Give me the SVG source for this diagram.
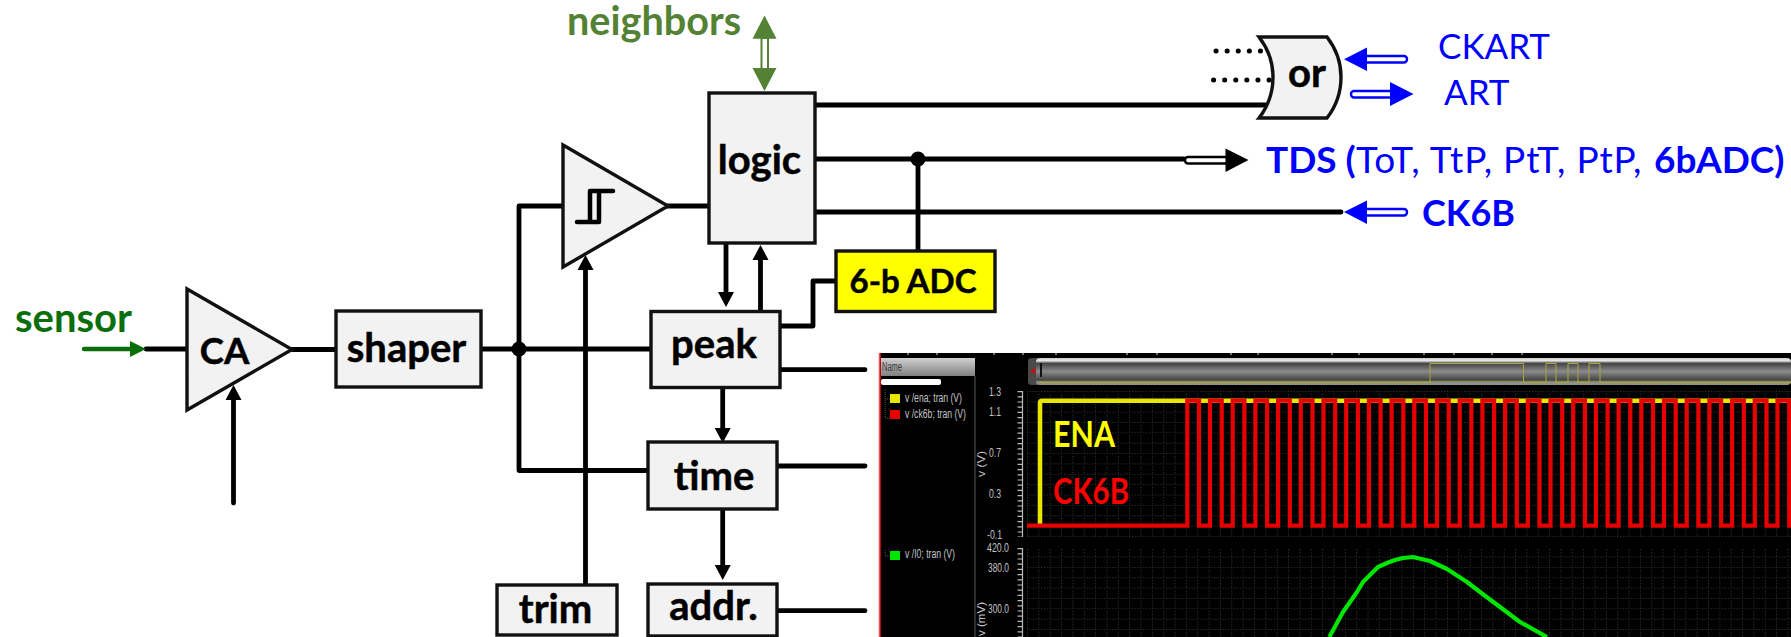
<svg xmlns="http://www.w3.org/2000/svg" width="1791" height="637" viewBox="0 0 1791 637">
<style>
text{font-family:Lato,"Open Sans","Liberation Sans",sans-serif}
.b{fill:#f2f2f2;stroke:#111;stroke-width:3.4}
.t{font-size:40px;font-weight:700;fill:#000;text-anchor:middle;stroke:#000;stroke-width:.5}
.w{fill:none;stroke:#000;stroke-width:4.8;stroke-linecap:round;stroke-linejoin:round}
.a{marker-end:url(#ah)}
.bl{fill:#00f}
.ho{fill:#fff;stroke:#00f;stroke-width:2.4}
.lbl{font-size:36px;fill:#00f}
.sm{font-family:"Liberation Sans",sans-serif;font-size:12.5px;fill:#c4c4c4}
</style>
<defs>
<marker id="ah" markerUnits="userSpaceOnUse" markerWidth="17" markerHeight="18" refX="1" refY="9" orient="auto"><path d="M0 1L15 9L0 17Z" fill="#000"/></marker>
<pattern id="grid" width="11.35" height="10.35" patternUnits="userSpaceOnUse" x="1027" y="391"><path d="M0 .5H11.35M.5 0V10.35" fill="none" stroke="#3a3a3a" stroke-width="1" stroke-dasharray="1 1.9"/></pattern>
<linearGradient id="bar" x1="0" y1="0" x2="0" y2="1"><stop offset="0" stop-color="#c8ccd0"/><stop offset=".1" stop-color="#e8e8e8"/><stop offset=".2" stop-color="#444"/><stop offset=".5" stop-color="#8a8a8a"/><stop offset=".82" stop-color="#444"/><stop offset=".87" stop-color="#8c8c50"/><stop offset=".92" stop-color="#8c9298"/><stop offset="1" stop-color="#8c9298"/></linearGradient>
<linearGradient id="nm" x1="0" y1="0" x2="0" y2="1"><stop offset="0" stop-color="#d0d0d0"/><stop offset="1" stop-color="#808080"/></linearGradient>
</defs>
<rect width="1791" height="637" fill="#fff"/>
<g id="waveform">
<rect x="880" y="353" width="911" height="284" fill="#000"/>
<path d="M880 353V637" stroke="#ee1111" stroke-width="1.5"/>
<path d="M878.5 353V637" stroke="#f6d4d4" stroke-width="1"/>
<path d="M908 353v2M937 353v2M994 353v2M1023 353v2M1056 353v2M1127 353v2M1157 353v2M1231 353v2M1258 353v2M1332 353v2M1359 353v2M1424 353v2M1454 353v2M1492 353v2M1522 353v2" stroke="#ddd" stroke-width="1"/>
<rect x="881" y="358" width="94" height="18" fill="url(#nm)"/>
<text class="sm" x="882" y="371" style="fill:#3c3c3c" textLength="20" lengthAdjust="spacingAndGlyphs">Name</text>
<rect x="881" y="379" width="60" height="6" rx="2" fill="#fff"/>
<path d="M975 376V637" stroke="#5a5a5a" stroke-width="1"/>
<path d="M885 390V418H890M885 399H890M885 550V556H890" fill="none" stroke="#555" stroke-width="1" stroke-dasharray="1 1"/>
<rect x="890" y="394" width="10" height="9" fill="#e6e600"/>
<rect x="890" y="410" width="10" height="9" fill="#e60000"/>
<rect x="890" y="551" width="10" height="9" fill="#00e600"/>
<text class="sm" x="905" y="402" textLength="57" lengthAdjust="spacingAndGlyphs">v /ena; tran (V)</text>
<text class="sm" x="905" y="418" textLength="61" lengthAdjust="spacingAndGlyphs">v /ck6b; tran (V)</text>
<text class="sm" x="905" y="558" textLength="50" lengthAdjust="spacingAndGlyphs">v /I0; tran (V)</text>
<text class="sm" x="989" y="396" textLength="12" lengthAdjust="spacingAndGlyphs">1.3</text>
<text class="sm" x="989" y="416" textLength="12" lengthAdjust="spacingAndGlyphs">1.1</text>
<text class="sm" x="989" y="457" textLength="12" lengthAdjust="spacingAndGlyphs">0.7</text>
<text class="sm" x="989" y="498" textLength="12" lengthAdjust="spacingAndGlyphs">0.3</text>
<text class="sm" x="987" y="539" textLength="15" lengthAdjust="spacingAndGlyphs">-0.1</text>
<text class="sm" x="987" y="552" textLength="22" lengthAdjust="spacingAndGlyphs">420.0</text>
<text class="sm" x="988" y="572" textLength="21" lengthAdjust="spacingAndGlyphs">380.0</text>
<text class="sm" x="988" y="613" textLength="21" lengthAdjust="spacingAndGlyphs">300.0</text>
<text class="sm" style="font-size:11px" transform="translate(985 477) rotate(-90)" textLength="26" lengthAdjust="spacingAndGlyphs">v (V)</text>
<text class="sm" style="font-size:11px" transform="translate(985 636) rotate(-90)" textLength="34" lengthAdjust="spacingAndGlyphs">v (mV)</text>
<path d="M1022.5 391V537M1022.5 548V637" stroke="#bbb" stroke-width="1.2"/>
<path d="M1020 391V537M1020 548V637" stroke="#bbb" stroke-width="5" stroke-dasharray="1.2 4"/>
<rect x="1027" y="391" width="764" height="147" fill="url(#grid)"/>
<rect x="1027" y="548" width="764" height="89" fill="url(#grid)"/>
<path d="M1028 361Q1028 358 1032 358H1038V385H1032Q1028 385 1028 382Z" fill="#4a4a4a"/>
<path d="M1035 368L1030.5 371L1035 374Z" fill="#e00000"/>
<rect x="1036" y="358" width="755" height="27" rx="4" fill="url(#bar)"/>
<rect x="1040" y="363" width="2" height="14" fill="#111"/>
<path d="M1040 382.5H1430V363.5H1523.5V382.5H1546V363.5H1556V382.5H1568V363.5H1578V382.5H1589V363.5H1600V382.5H1791" fill="none" stroke="#a8a838" stroke-width="1"/>
<path d="M1040 524V403Q1040 400.7 1042 400.7H1791" fill="none" stroke="#e6e600" stroke-width="4.6"/>
<path d="M1027 525.7H1187.3V400.7h11.7v125h11v-125h11.7v125h11v-125h11.7v125h11v-125h11.7v125h11v-125h11.7v125h11v-125h11.7v125h11v-125h11.7v125h11v-125h11.7v125h11v-125h11.7v125h11v-125h11.7v125h11v-125h11.7v125h11v-125h11.7v125h11v-125h11.7v125h11v-125h11.7v125h11v-125h11.7v125h11v-125h11.7v125h11v-125h11.7v125h11v-125h11.7v125h11v-125h11.7v125h11v-125h11.7v125h11v-125h11.7v125h11v-125h11.7v125h11v-125h11.7v125h11v-125h11.7v125h11v-125h11.7v125h11v-125h11.7v125h11v-125h11.7v125h11v-125h11.7v125h11v-125" fill="none" stroke="#e60000" stroke-width="4.2"/>
<path d="M1329.3 637L1343 612L1357 592L1363 582L1372 573L1378 567L1387 563L1395 560L1403 558L1413 557L1430 561L1447 569L1467 582L1480 592L1500 607L1520 622L1547 637" fill="none" stroke="#00e600" stroke-width="4.2" stroke-linejoin="round"/>
<text x="1053" y="447" font-size="36" font-weight="700" fill="#ffff00" textLength="62" lengthAdjust="spacingAndGlyphs">ENA</text>
<text x="1053" y="504" font-size="36" font-weight="700" fill="#ff0000" textLength="76" lengthAdjust="spacingAndGlyphs">CK6B</text>
</g>
<g id="connectors">
<path class="w" d="M146 349H187M292 349.5H336M481 349H651"/>
<path class="w a" d="M233.5 503V399"/>
<path class="w" d="M563 206H519V470.5H648"/>
<path class="w a" d="M585.5 585V269"/>
<path class="w" d="M667 206H709M815 105H1272M815 159H1184M815 212H1341M918 159V251M780 326H813V281H836M780 369.7H865M777 466H865M777 610.7H865"/>
<path class="w a" d="M726 243V293"/>
<path class="w a" d="M760.5 311V259"/>
<path class="w a" d="M722.7 388V429"/>
<path class="w a" d="M722.7 509V566"/>
<circle cx="519" cy="349" r="7.5" fill="#000"/>
<circle cx="918" cy="159" r="7.5" fill="#000"/>
<path d="M1216 51H1262M1213.5 80H1270" fill="none" stroke="#000" stroke-width="5" stroke-linecap="round" stroke-dasharray=".1 11"/>
<path d="M84 349H131" fill="none" stroke="#0a6e0a" stroke-width="4.4" stroke-linecap="round"/>
<path d="M130 341L146 349L130 357Z" fill="#0a6e0a"/>
<g id="neighbors-arrow">
<rect x="761.5" y="38" width="6.5" height="31" fill="#fff" stroke="#548235" stroke-width="2"/>
<path d="M764.5 15.5L776.5 38.7H752.5ZM764.5 91L776.5 68H752.5Z" fill="#548235"/>
</g>
<g id="ckart-arrow"><rect class="ho" x="1362" y="56" width="45" height="6.5" rx="3"/><path class="bl" d="M1344 59.3L1367 47.5V71Z"/></g>
<g id="art-arrow"><rect class="ho" x="1351" y="91" width="42" height="6.5" rx="3"/><path class="bl" d="M1413.5 94L1390 82V106Z"/></g>
<g id="ck6b-arrow"><rect class="ho" x="1362" y="209" width="45" height="6.5" rx="3"/><path class="bl" d="M1344 212L1367 200.5V224Z"/></g>
<g id="tds-arrow"><rect x="1185" y="157" width="43" height="6.5" rx="3" fill="#fff" stroke="#000" stroke-width="2.4"/><path d="M1248.5 160L1225.5 148.5V172Z" fill="#000"/></g>
</g>
<g id="ca"><path class="b" d="M187 289V410L292 349.5Z"/><text class="t" x="224.5" y="364" style="font-size:36.5px">CA</text></g>
<g id="shaper"><rect class="b" x="336" y="311" width="145" height="76"/><text class="t" x="406.5" y="362">shaper</text></g>
<g id="comparator"><path class="b" d="M563 145V267L668 206Z"/><path d="M577 222H599V191H590V222M590 191H613" fill="none" stroke="#000" stroke-width="4.5" stroke-linecap="round" stroke-linejoin="round"/></g>
<g id="logic"><rect class="b" x="709" y="93" width="106" height="150"/><text class="t" x="759.5" y="174">logic</text></g>
<g id="adc"><rect class="b" x="836" y="251" width="159" height="60.5" style="fill:#ffff00"/><text class="t" x="913" y="293" style="font-size:33px">6-b ADC</text></g>
<g id="peak"><rect class="b" x="651" y="311.5" width="129" height="76"/><text class="t" x="714" y="358">peak</text></g>
<g id="time"><rect class="b" x="648" y="442" width="129" height="67"/><text class="t" x="714" y="490">time</text></g>
<g id="trim"><rect class="b" x="497" y="585" width="120" height="50"/><text class="t" x="555.5" y="623">trim</text></g>
<g id="addr"><rect class="b" x="648" y="584" width="129" height="52"/><text class="t" x="713.5" y="620">addr.</text></g>
<g id="or"><path class="b" d="M1259 37H1327Q1341 55 1341 77Q1341 100 1327 118H1259Q1273 100 1273 77Q1273 55 1259 37Z"/><text class="t" x="1307" y="87">or</text></g>
<g id="labels">
<text x="15" y="332" font-size="40" font-weight="700" fill="#0a6e0a">sensor</text>
<text x="567" y="35" font-size="39.6" font-weight="700" fill="#548235">neighbors</text>
<text class="lbl" x="1438" y="59" style="font-size:35px">CKART</text>
<text class="lbl" x="1444" y="105" style="font-size:35px">ART</text>
<text class="lbl" y="172.5" style="font-size:37px"><tspan x="1266" font-weight="700">TDS (</tspan><tspan x="1356" letter-spacing=".8">ToT, TtP, PtT, PtP, </tspan><tspan x="1654" font-weight="700">6bADC)</tspan></text>
<text class="lbl" x="1422" y="225.5" font-weight="700">CK6B</text>
</g>
</svg>
